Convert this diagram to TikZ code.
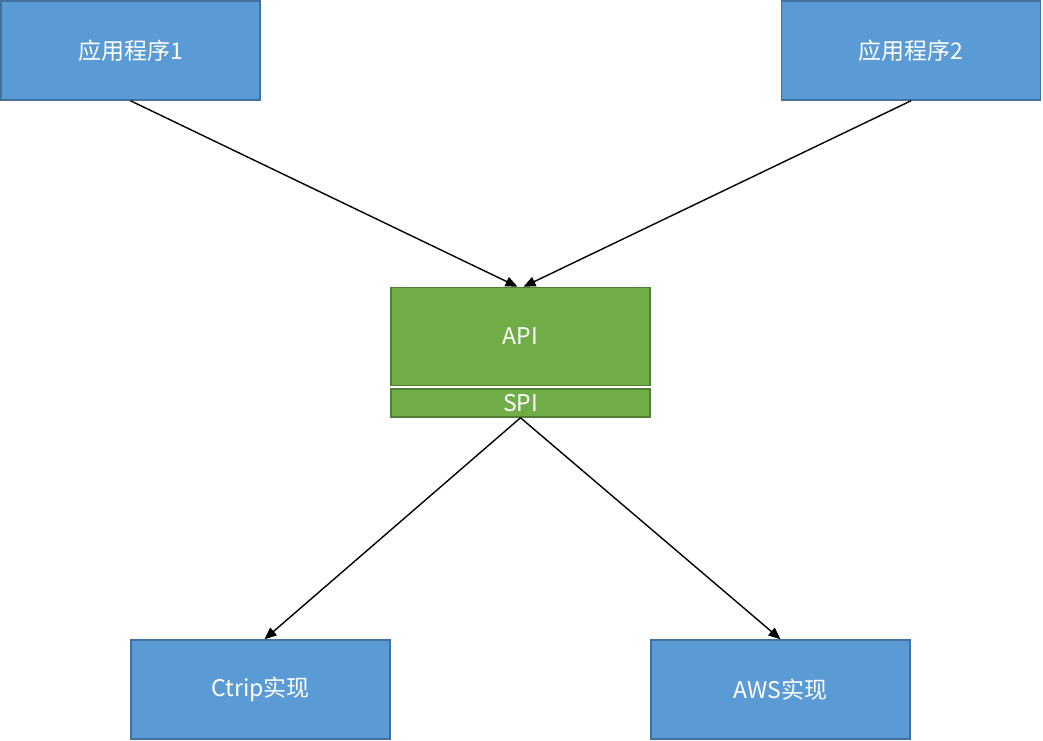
\documentclass[tikz,border=0pt]{standalone}
\usepackage{fontspec}
\setmainfont{Noto Sans CJK SC}
\usepackage{xcolor}
\usetikzlibrary{arrows.meta}

\definecolor{appblue}{HTML}{5B9BD5}
\definecolor{appline}{HTML}{41719C}
\definecolor{apigreen}{HTML}{70AD47}
\definecolor{apiline}{HTML}{507E32}

\begin{document}
\begin{tikzpicture}[
    x=1pt, y=-1pt,
    box/.style={rectangle, draw=appline, fill=appblue, line width=1.5pt, text=white, minimum width=259pt, minimum height=99pt, align=center, font=\fontsize{23}{27}\selectfont},
    apibox/.style={box, draw=apiline, fill=apigreen},
    link/.style={-{Triangle[length=12pt,width=10pt]}, line width=1.4pt, black}
]
\useasboundingbox (0,0) rectangle (1043,740);

\node[box] (app1) at (130.5,50.5) {应用程序1};
\node[box] (app2) at (911,50.5) {应用程序2};

\node[apibox, minimum height=98pt] (api) at (520.5,336.5) {API};
\node[apibox, minimum height=28pt, inner sep=0pt] (spi) at (520.5,403) {SPI};

\node[box] (ctrip) at (260.5,689.5) {Ctrip实现};
\node[box] (aws) at (780.5,689.5) {AWS实现};

\draw[link] (app1.south) -- ([xshift=-3pt]api.north);
\draw[link] (app2.south) -- ([xshift=3pt]api.north);
\draw[link] (spi.south) -- ([xshift=4pt]ctrip.north);
\draw[link] (spi.south) -- (aws.north);

\end{tikzpicture}
\end{document}
